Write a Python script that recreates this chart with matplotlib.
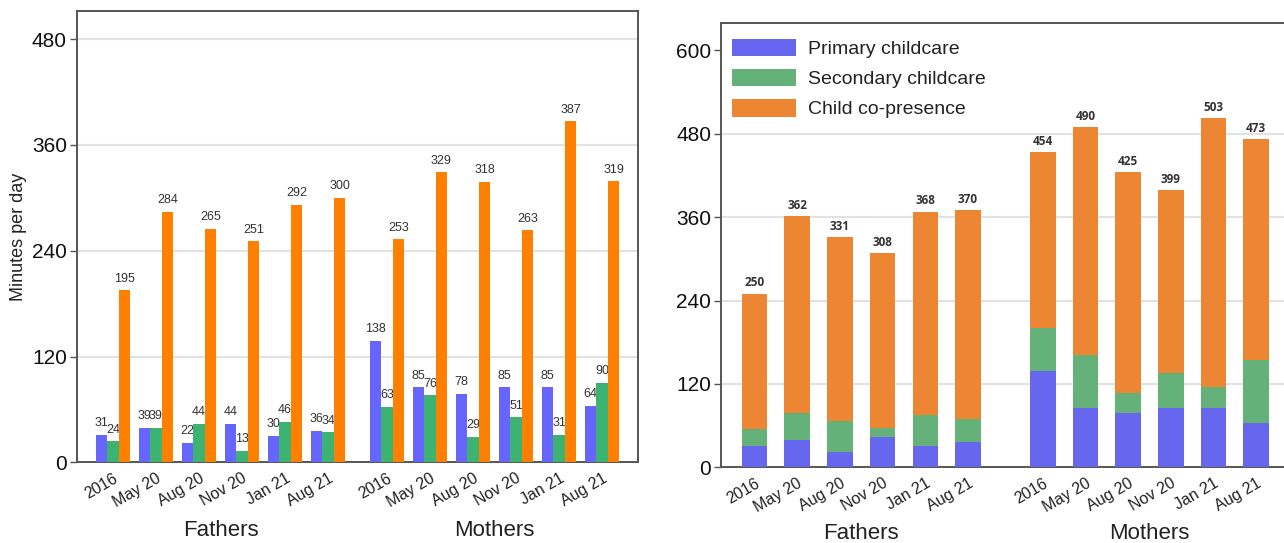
import matplotlib
matplotlib.use("Agg")
import matplotlib.pyplot as plt
import numpy as np

plt.rcParams['font.family'] = ['Liberation Sans Narrow', 'Liberation Sans', 'DejaVu Sans']

waves = ["2016", "May 20", "Aug 20", "Nov 20", "Jan 21", "Aug 21"]
groups = ["Fathers", "Mothers"]
series_names = ["Primary childcare", "Secondary childcare", "Child co-presence"]

fathers_primary = [31, 39, 22, 44, 30, 36]
fathers_secondary = [24, 39, 44, 13, 46, 34]
fathers_copresence = [195, 284, 265, 251, 292, 300]

mothers_primary = [138, 85, 78, 85, 85, 64]
mothers_secondary = [63, 76, 29, 51, 31, 90]
mothers_copresence = [253, 329, 318, 263, 387, 319]

left_colors = ["#6666ff", "#3cb371", "#ff7f00"]
right_colors = ["#6666ee", "#64b27a", "#ec8633"]
text_col = "#222222"
spine_col = "#555555"
grid_col = "#e2e2e2"

fig = plt.figure(figsize=(12.84, 5.43), dpi=100)

# left panel: grouped bars
ax1 = fig.add_axes([0.0597, 0.1486, 0.4370, 0.8311])
gap1 = 6.37
xf = np.arange(len(waves))
xm = xf + gap1
w = 0.267
fathers = [fathers_primary, fathers_secondary, fathers_copresence]
mothers = [mothers_primary, mothers_secondary, mothers_copresence]
for k in range(3):
    off = (k - 1) * w
    for xs, vals in ((xf, fathers[k]), (xm, mothers[k])):
        bars = ax1.bar(xs + off, vals, width=w, color=left_colors[k], zorder=3)
        for b, v in zip(bars, vals):
            ax1.annotate(str(v), (b.get_x() + b.get_width() / 2, v),
                         xytext=(0, 4), textcoords="offset points",
                         ha="center", va="bottom", fontsize=9, color="#333333")

ax1.set_xlim(-0.844, 12.2)
ax1.set_ylim(0, 512)
ax1.set_yticks([0, 120, 240, 360, 480])
ax1.set_xticks(np.concatenate([xf, xm]))
ax1.set_xticklabels(waves + waves, rotation=30, ha="right", rotation_mode="anchor")
ax1.set_ylabel("Minutes per day", fontsize=13, color=text_col)
ax1.yaxis.set_label_coords(-0.088, 0.5)
for x, name in zip([xf.mean(), xm.mean()], groups):
    ax1.text(x, -0.15, name, transform=ax1.get_xaxis_transform(),
             ha="center", va="center", fontsize=16, color=text_col)

# right panel: stacked bars with totals
ax2 = fig.add_axes([0.5615, 0.1394, 0.4432, 0.8188])
gap2 = 6.75
xm2 = xf + gap2
w2 = 0.6
for xs, parts in ((xf, fathers), (xm2, mothers)):
    bottom = np.zeros(len(waves))
    for k in range(3):
        ax2.bar(xs, parts[k], width=w2, bottom=bottom, color=right_colors[k],
                label=series_names[k] if xs is xf else None, zorder=3)
        bottom = bottom + np.array(parts[k])
    for x, t in zip(xs, bottom):
        ax2.annotate(str(int(t)), (x, t), xytext=(0, 3), textcoords="offset points",
                     ha="center", va="bottom", fontsize=8.5, fontweight="bold",
                     family=["Open Sans", "DejaVu Sans"], color="#333333")

ax2.set_xlim(-0.785, 12.54)
ax2.set_ylim(0, 640)
ax2.set_yticks([0, 120, 240, 360, 480, 600])
ax2.set_xticks(np.concatenate([xf, xm2]))
ax2.set_xticklabels(waves + waves, rotation=30, ha="right", rotation_mode="anchor")
for x, name in zip([xf.mean(), xm2.mean()], groups):
    ax2.text(x, -0.148, name, transform=ax2.get_xaxis_transform(),
             ha="center", va="center", fontsize=16, color=text_col)

leg = ax2.legend(loc="upper left", bbox_to_anchor=(732 / 1284, 1 - 39 / 543),
                 bbox_transform=fig.transFigure, frameon=False, fontsize=14,
                 handlelength=3.3, handleheight=1.0, labelspacing=0.55,
                 handletextpad=0.6, borderpad=0, borderaxespad=0)
for t in leg.get_texts():
    t.set_color(text_col)

for ax in (ax1, ax2):
    for y in ax.get_yticks()[1:5]:
        ax.axhline(y, color=grid_col, lw=1.5, zorder=1)
    for s in ax.spines.values():
        s.set_color(spine_col)
        s.set_linewidth(1.4)
    ax.tick_params(axis="y", length=5, width=1, color=spine_col, labelsize=15,
                   labelcolor="#111111", pad=2)
    ax.tick_params(axis="x", length=0, labelsize=11.5, labelcolor="#222222", pad=6)

fig.savefig("out.png", dpi=100)
